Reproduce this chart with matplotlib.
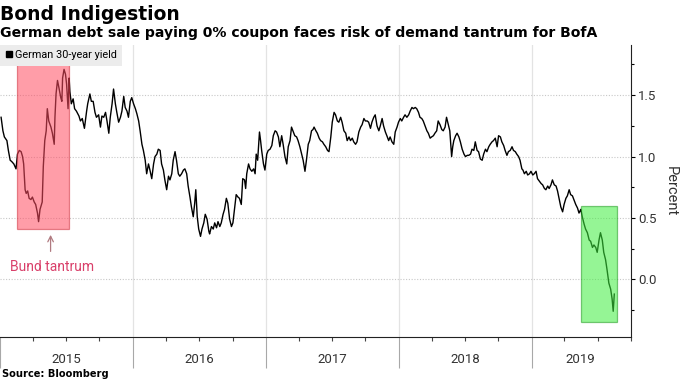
import numpy as np
import matplotlib
matplotlib.use("Agg")
import matplotlib.pyplot as plt
import matplotlib.dates as mdates
from matplotlib.lines import Line2D
from matplotlib.patches import Rectangle

# German 30-year yield (days counted from 2015-01-01)
days = [
    3, 8, 12, 19, 23, 28, 32, 38, 44, 48, 53, 58, 62, 65, 69, 72, 76, 80, 85, 89,
    94, 98, 103, 106, 110, 116, 119, 123, 127, 130, 134, 140, 144, 149, 151, 154,
    158, 162, 167, 170, 172, 176, 180, 183, 187, 190, 192, 196, 201, 205, 210, 217,
    221, 226, 232, 238, 241, 247, 251, 256, 261, 265, 271, 276, 280, 285,
    290, 294, 299, 303, 308, 312, 317, 321, 326, 331, 335, 340, 344, 349, 353, 358,
    362, 367, 372, 376, 381, 385, 390, 394, 399, 403, 408, 412, 417, 422, 426, 431,
    435, 440, 444, 449, 453, 458, 463, 467, 472, 476, 481, 485, 490, 494, 499, 504,
    508, 513, 517, 522, 526, 531, 535, 538, 542, 546, 551, 555, 560, 564, 569, 574,
    576, 581, 586, 590, 595, 599, 604, 608, 613, 617, 622, 626, 631, 636, 640, 645,
    649, 654, 658, 663, 667, 672, 675, 678, 683, 687, 692, 697, 701, 704, 708, 713,
    716, 719, 724, 728, 733, 737, 742, 747, 751, 756, 760, 765, 769, 774, 778, 783,
    788, 792, 797, 801, 806, 810, 815, 819, 824, 829, 833, 838, 842, 847, 851, 856, 860,
    863, 868, 872, 877, 881, 886, 890, 895, 900, 904, 909, 913, 918, 922, 927, 931,
    936, 940, 945, 950, 954, 959, 963, 968, 972, 977, 981, 986, 991, 995, 1000, 1004,
    1009, 1013, 1018, 1022, 1027, 1031, 1036, 1041, 1045, 1050, 1054, 1059, 1063,
    1068, 1072, 1077, 1082, 1086, 1091, 1095, 1100, 1104, 1109, 1113, 1118, 1123,
    1127, 1132, 1136, 1141, 1145,
    1150, 1154, 1159, 1163, 1168, 1173, 1177, 1182, 1186, 1191, 1195, 1200, 1204,
    1209, 1214, 1218, 1223, 1227, 1232, 1236, 1241, 1244, 1247, 1252, 1256, 1261,
    1265, 1270, 1275, 1279, 1284, 1288, 1293, 1297, 1302, 1306, 1311, 1315, 1320,
    1325, 1329, 1334, 1338, 1343, 1347, 1352, 1356, 1361, 1366, 1370, 1375, 1379,
    1384, 1388, 1393, 1397, 1402, 1407, 1411, 1416, 1420, 1425, 1429, 1434,
    1437, 1441, 1446, 1450, 1455, 1459, 1464, 1468, 1473, 1477, 1482, 1487, 1491,
    1496, 1500, 1505, 1509, 1514, 1518, 1523, 1528, 1532, 1537, 1541, 1546, 1550,
    1555, 1559, 1564, 1568, 1573, 1578, 1582, 1587, 1591, 1596, 1600, 1605, 1609,
    1614, 1619, 1623, 1628, 1632, 1637, 1641, 1646, 1650, 1655, 1659, 1664, 1668,
    1673, 1678, 1682, 1685, 1688,
]
yields = [
    1.32, 1.21, 1.16, 1.13, 1.05, 0.97, 0.96, 0.94, 0.90, 1.02, 1.05, 1.04, 1.00, 0.94,
    0.73, 0.70, 0.72, 0.66, 0.65, 0.67, 0.63, 0.61, 0.54, 0.47, 0.57, 0.63, 0.92, 1.13,
    1.21, 1.39, 1.29, 1.24, 1.19, 1.10, 1.32, 1.51, 1.62, 1.56, 1.48, 1.45, 1.64, 1.71,
    1.67, 1.59, 1.39, 1.64, 1.53, 1.43, 1.47, 1.39, 1.37, 1.33, 1.29, 1.31, 1.23, 1.37,
    1.43, 1.51, 1.45, 1.45, 1.36, 1.32, 1.34, 1.24, 1.33, 1.32,
    1.36, 1.29, 1.19, 1.32, 1.43, 1.55, 1.43, 1.36, 1.28, 1.32, 1.37, 1.49, 1.40, 1.37,
    1.32, 1.45, 1.48, 1.43, 1.39, 1.35, 1.29, 1.21, 1.10, 1.05, 0.97, 0.86, 0.94, 0.89,
    0.82, 0.94, 1.00, 1.02, 1.06, 1.05, 0.94, 0.89, 0.81, 0.73, 0.84, 0.81, 0.86, 0.97,
    1.04, 0.97, 0.86, 0.84, 0.86, 0.89, 0.90, 0.86, 0.76, 0.67, 0.59, 0.51, 0.62, 0.73,
    0.51, 0.41, 0.35, 0.41, 0.46, 0.53, 0.49, 0.39,
    0.37, 0.43, 0.41, 0.46, 0.42, 0.47, 0.43, 0.46, 0.53, 0.57, 0.66, 0.62, 0.49, 0.43,
    0.46, 0.59, 0.69, 0.67, 0.66, 0.61, 0.82, 0.81, 0.74, 0.86, 0.94, 0.90, 0.88, 0.90,
    0.86, 1.02, 0.97, 1.20, 1.13, 1.05, 0.94, 0.89, 1.02, 1.05, 1.06, 1.09, 1.17, 1.21,
    1.20, 1.16, 1.08, 1.17, 1.10, 1.00, 0.94, 1.08, 1.13, 1.24, 1.20, 1.17, 1.16, 1.13,
    1.08, 1.02, 0.97, 0.88, 0.97, 1.10, 1.13, 1.21, 1.22,
    1.24, 1.21, 1.19, 1.15, 1.13, 1.12, 1.10, 1.08, 1.05, 1.04, 1.16, 1.28, 1.36, 1.34,
    1.29, 1.28, 1.32, 1.28, 1.21, 1.19, 1.13, 1.16, 1.13, 1.15, 1.12, 1.10, 1.12, 1.20,
    1.24, 1.26, 1.31, 1.29, 1.29, 1.28, 1.23, 1.28, 1.32, 1.34, 1.25, 1.21, 1.25, 1.31,
    1.25, 1.20, 1.17, 1.13, 1.16, 1.12, 1.10, 1.20, 1.24, 1.28, 1.31, 1.29, 1.32, 1.34,
    1.32, 1.34, 1.37, 1.40, 1.39, 1.40, 1.39,
    1.36, 1.32, 1.31, 1.29, 1.25, 1.21, 1.19, 1.15, 1.16, 1.17, 1.19, 1.21, 1.29, 1.26,
    1.22, 1.21, 1.24, 1.32, 1.26, 1.21, 1.00, 1.08, 1.13, 1.17, 1.19, 1.16, 1.12, 1.06,
    1.02, 1.00, 1.01, 1.01, 1.02, 1.06, 1.05, 1.12, 1.05, 1.04, 0.98, 0.97, 1.02, 1.06,
    1.04, 1.08, 1.10, 1.12, 1.13, 1.15, 1.08, 1.17, 1.16, 1.12, 1.09, 1.05, 1.01, 1.04,
    1.05, 1.08, 1.05, 1.04, 1.02, 1.00, 0.97, 0.90,
    0.89, 0.86, 0.88, 0.85, 0.86, 0.88, 0.85, 0.86, 0.88, 0.82, 0.80, 0.78, 0.77, 0.74,
    0.73, 0.76, 0.74, 0.77, 0.81, 0.77, 0.76, 0.72, 0.65, 0.59, 0.55, 0.61, 0.66, 0.68,
    0.73, 0.69, 0.68, 0.64, 0.61, 0.58, 0.54, 0.57, 0.51, 0.45, 0.41, 0.38, 0.32, 0.31,
    0.26, 0.28, 0.26, 0.22, 0.32, 0.38, 0.32, 0.22, 0.16, 0.08, -0.03, -0.08, -0.16,
    -0.26, -0.12,
]

years = [2015, 2016, 2017, 2018, 2019]
# highlighted periods: (start, end, low, high)
tantrum_box = ("2015-02-16", "2015-07-09", 0.41, 1.76)
recent_box = ("2019-05-16", "2019-08-24", -0.35, 0.60)

LABEL_FONT = ["Roboto", "DejaVu Sans"]

start = np.datetime64("2015-01-01")
dates = start + np.array(days).astype("timedelta64[D]")
x = mdates.date2num(dates)

fig = plt.figure(figsize=(6.8, 3.8), dpi=100)
ax = fig.add_axes([0.0, 0.113, 0.928, 0.769])

x0 = mdates.date2num(np.datetime64("2015-01-03"))
x1 = mdates.date2num(np.datetime64("2019-09-24"))
ax.set_xlim(x0, x1)
ax.set_ylim(-0.47, 1.91)

ax.plot(x, yields, color="black", lw=1.0, zorder=3)


def add_box(spec, face, edge):
    a = mdates.date2num(np.datetime64(spec[0]))
    b = mdates.date2num(np.datetime64(spec[1]))
    ax.add_patch(Rectangle((a, spec[2]), b - a, spec[3] - spec[2],
                           facecolor=face, edgecolor=edge, lw=0.9,
                           alpha=0.55, zorder=4))


add_box(tantrum_box, "#ff4d62", "#d0303f")
add_box(recent_box, "#3fee3f", "#1f9a1f")

# arrow and label for the Bund tantrum
arrow_x = mdates.date2num(np.datetime64("2015-05-20"))
ax.annotate("", xy=(arrow_x, 0.385), xytext=(arrow_x, 0.205),
            arrowprops=dict(arrowstyle="->", color="#b07a80", lw=0.9))
ax.text(arrow_x + 3, 0.10, "Bund tantrum", color="#d9406a", fontsize=10,
        family=LABEL_FONT, ha="center", va="center")

# spines
for s in ["top", "left"]:
    ax.spines[s].set_visible(False)
for s in ["right", "bottom"]:
    ax.spines[s].set_color("#222222")
    ax.spines[s].set_linewidth(0.8)

# y axis on the right
ax.yaxis.tick_right()
ax.yaxis.set_label_position("right")
ax.set_yticks([0.0, 0.5, 1.0, 1.5])
ax.set_yticklabels(["0.0", "0.5", "1.0", "1.5"], family=LABEL_FONT)
ax.set_yticks([-0.25, 0.25, 0.75, 1.25, 1.75], minor=True)
ax.tick_params(axis="y", which="major", length=3, width=0.8, pad=2,
               labelsize=9.5, labelcolor="#333333")
ax.tick_params(axis="y", which="minor", length=2.5, width=0.8)
ax.set_ylabel("Percent", rotation=270, labelpad=15, fontsize=10.5,
              color="#333333", family=LABEL_FONT)
ax.grid(axis="y", which="major", color="#c8c8c8", ls=(0, (1, 1.5)), lw=0.8)

# x axis: long separators at year starts, short quarter ticks
year_starts = [mdates.date2num(np.datetime64(f"{y}-01-01")) for y in years]
quarters = [mdates.date2num(np.datetime64(f"{y}-{m:02d}-01"))
            for y in years for m in (4, 7, 10)]
ax.set_xticks(year_starts)
ax.set_xticklabels([])
ax.set_xticks(quarters, minor=True)
ax.tick_params(axis="x", which="major", length=22, width=0.8, color="#a8a8a8")
ax.tick_params(axis="x", which="minor", length=3, width=0.8, color="#444444")
for xs in year_starts[1:]:
    ax.axvline(xs, color="#e3e3e3", lw=0.9, zorder=0)

# year labels centred on the visible part of each year
bounds = year_starts + [mdates.date2num(np.datetime64("2020-01-01"))]
for i, y in enumerate(years):
    a = max(bounds[i], x0)
    b = min(bounds[i + 1], x1)
    ax.text((a + b) / 2, -0.076, str(y), transform=ax.get_xaxis_transform(),
            ha="center", va="center", fontsize=9.5, color="#333333",
            family=LABEL_FONT)

# legend
handle = Line2D([], [], marker="s", color="black", ls="none", markersize=4.5)
leg = ax.legend([handle], ["German 30-year yield"], loc="upper left",
                bbox_to_anchor=(0, 1), borderaxespad=0, frameon=True,
                fancybox=False, prop={"family": LABEL_FONT, "size": 7.8},
                handlelength=0.6, handletextpad=0.25, borderpad=0.5)
leg.get_frame().set_facecolor("#ececec")
leg.get_frame().set_edgecolor("none")
leg.get_frame().set_alpha(1)

fig.text(0.0, 0.962, "Bond Indigestion", fontsize=13.5, fontweight="bold",
         ha="left", va="center", color="black")
fig.text(0.0, 0.912, "German debt sale paying 0% coupon faces risk of demand tantrum for BofA",
         fontsize=10.05, fontweight="bold", ha="left", va="center", color="black")
fig.text(0.003, 0.016, "Source: Bloomberg", fontsize=7.1, fontweight="bold",
         ha="left", va="center", color="black")

fig.savefig("out.png", dpi=100)
